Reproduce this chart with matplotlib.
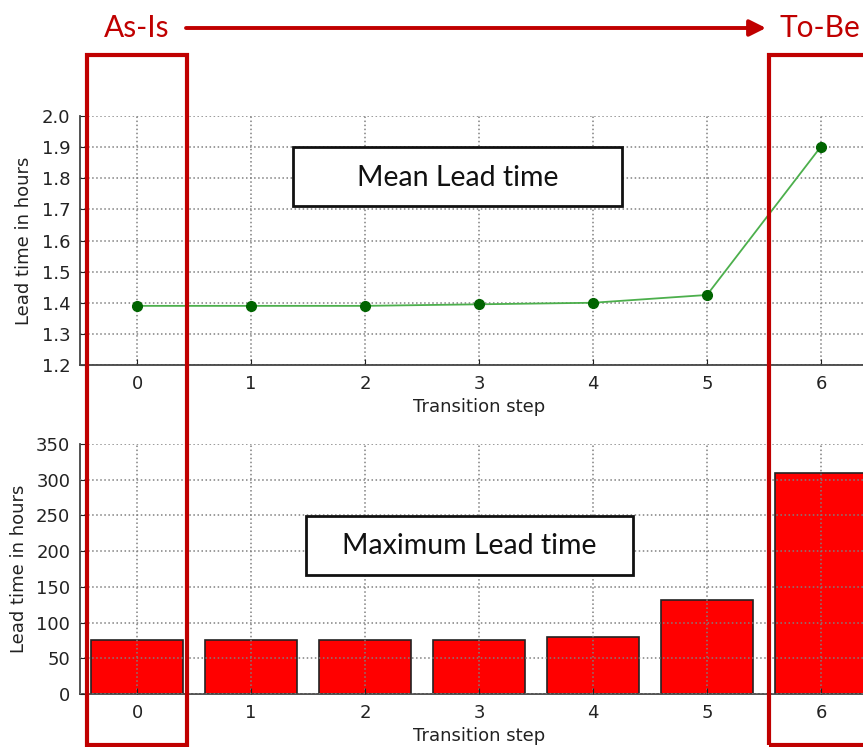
import numpy as np
import matplotlib.pyplot as plt
from matplotlib.patches import Rectangle, FancyArrowPatch

steps = [0, 1, 2, 3, 4, 5, 6]
mean_lead = [1.39, 1.39, 1.39, 1.395, 1.40, 1.425, 1.902]
max_lead = [75, 75, 75, 75, 80, 131, 310]

W, H = 863, 747
RED = '#C00000'


def fx(px):                      # pixel -> figure fraction
    return px / W


def fy(py):
    return 1 - py / H


def style_axes(ax):
    ax.grid(True, linestyle=':', color='#808080', linewidth=1.1)
    ax.spines['top'].set_visible(False)
    ax.spines['right'].set_visible(False)
    for s in ('left', 'bottom'):
        ax.spines[s].set_color('#444444')
        ax.spines[s].set_linewidth(1.3)
    ax.tick_params(direction='in', length=4, labelsize=13, colors='#222222', pad=7)
    ax.set_xticks(steps)
    ax.set_xlim(-0.5, 6.5)
    ax.set_xlabel('Transition step', fontsize=13, color='#222222', labelpad=4)
    ax.set_ylabel('Lead time in hours', fontsize=13, color='#222222', labelpad=6)


fig = plt.figure(figsize=(W / 100, H / 100), dpi=100)

# top: mean lead time
ax1 = fig.add_axes([fx(80), fy(365), fx(798), 249 / H])
ax1.plot(steps, mean_lead, '-', color='#4caf4c', linewidth=1.3, zorder=3)
ax1.plot(steps, mean_lead, 'o', color='#006400', markersize=7, zorder=4)
ax1.set_ylim(1.2, 2.0)
ax1.set_yticks(np.arange(1.2, 2.01, 0.1))
ax1.set_yticklabels(['%.1f' % v for v in np.arange(1.2, 2.01, 0.1)])
style_axes(ax1)

# bottom: maximum lead time
ax2 = fig.add_axes([fx(80), fy(694), fx(798), 250 / H])
ax2.bar(steps, max_lead, width=0.8, color='#ff0000', edgecolor='#222222', linewidth=1.2, zorder=2)
ax2.set_ylim(0, 350)
ax2.set_yticks(range(0, 351, 50))
ax2.set_axisbelow(False)
style_axes(ax2)

# title boxes
for (x0, y0, x1, y1), label in [((293, 147, 622, 206), 'Mean Lead time'),
                                ((306, 516, 633, 575), 'Maximum Lead time')]:
    fig.patches.append(Rectangle((fx(x0), fy(y1)), fx(x1 - x0), (y1 - y0) / H,
                                 transform=fig.transFigure, facecolor='white',
                                 edgecolor='#111111', linewidth=2, zorder=10))
    fig.text(fx((x0 + x1) / 2), fy((y0 + y1) / 2 + 1), label, ha='center', va='center',
             fontsize=20.5, family='Lato', color='#111111', zorder=11)

# As-Is / To-Be frames
fig.patches.append(Rectangle((fx(87), fy(745)), fx(100), 690 / H, transform=fig.transFigure,
                             fill=False, edgecolor=RED, linewidth=3, zorder=12))
fig.patches.append(Rectangle((fx(769), fy(745)), fx(110), 690 / H, transform=fig.transFigure,
                             fill=False, edgecolor=RED, linewidth=3, zorder=12))
fig.text(fx(137), fy(28), 'As-Is', ha='center', va='center', fontsize=21.5, family='Lato', color=RED)
fig.text(fx(779), fy(28), 'To-Be', ha='left', va='center', fontsize=21.5, family='Lato', color=RED)
fig.patches.append(FancyArrowPatch((fx(186), fy(28)), (fx(766), fy(28)), transform=fig.transFigure,
                                   arrowstyle='-|>,head_length=7,head_width=3.5', mutation_scale=1.4,
                                   color=RED, linewidth=2.8, shrinkA=0, shrinkB=0))

fig.savefig('out.png', dpi=100)
